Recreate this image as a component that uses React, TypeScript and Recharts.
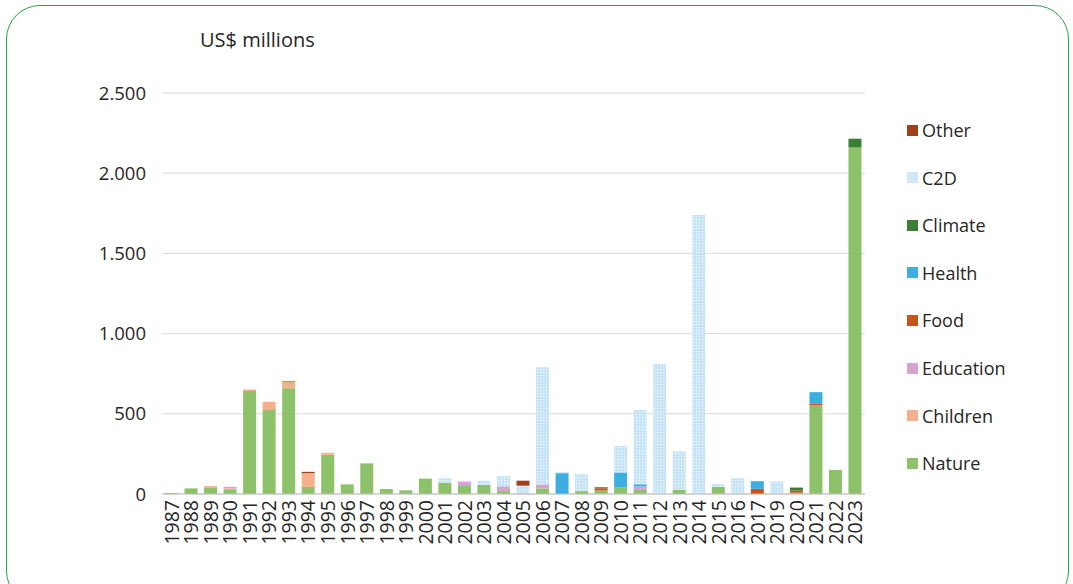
import { BarChart, Bar, XAxis, YAxis, CartesianGrid } from 'recharts';

const years = [
  '1987', '1988', '1989', '1990', '1991', '1992', '1993', '1994', '1995', '1996',
  '1997', '1998', '1999', '2000', '2001', '2002', '2003', '2004', '2005', '2006',
  '2007', '2008', '2009', '2010', '2011', '2012', '2013', '2014', '2015', '2016',
  '2017', '2019', '2020', '2021', '2022', '2023',
];

// US$ millions
const nature = [6, 35, 38, 25, 642, 523, 660, 45, 245, 60, 191, 31, 23, 96, 70, 50, 56, 18, 0, 35, 0, 18, 22, 40, 25, 0, 25, 0, 45, 0, 0, 0, 8, 555, 150, 2160];
const children = [0, 0, 12, 10, 10, 52, 38, 85, 12, 0, 0, 0, 0, 0, 0, 0, 0, 0, 0, 0, 0, 0, 0, 0, 0, 0, 0, 0, 0, 0, 0, 0, 0, 0, 0, 0];
const education = [0, 0, 0, 10, 0, 0, 0, 0, 0, 0, 0, 0, 0, 0, 0, 27, 0, 30, 5, 25, 0, 0, 0, 0, 22, 0, 0, 0, 0, 0, 0, 0, 0, 0, 0, 0];
const food = [0, 0, 0, 0, 0, 0, 0, 0, 0, 0, 0, 0, 0, 0, 0, 0, 0, 0, 0, 0, 0, 0, 12, 0, 0, 0, 0, 0, 0, 0, 32, 0, 14, 10, 0, 0];
const health = [0, 0, 0, 0, 0, 0, 6, 0, 0, 0, 0, 0, 0, 0, 0, 0, 0, 0, 0, 0, 130, 0, 0, 94, 14, 0, 0, 0, 0, 0, 48, 0, 0, 70, 0, 0];
const climate = [0, 0, 0, 0, 0, 0, 0, 0, 0, 0, 0, 0, 0, 0, 0, 0, 0, 0, 0, 0, 0, 0, 0, 0, 0, 0, 0, 0, 0, 0, 0, 0, 18, 0, 0, 55];
const c2d = [0, 0, 0, 0, 0, 0, 0, 0, 0, 0, 0, 0, 0, 0, 28, 6, 27, 64, 47, 730, 5, 107, 0, 165, 462, 810, 240, 1740, 17, 98, 0, 78, 0, 0, 0, 0];
const other = [0, 0, 0, 0, 0, 0, 0, 8, 0, 0, 0, 0, 0, 0, 0, 0, 0, 0, 31, 0, 0, 0, 8, 0, 0, 0, 0, 0, 0, 0, 0, 0, 0, 0, 0, 0];

const yTicks = [0, 500, 1000, 1500, 2000, 2500];

const series = [
  { key: 'nature', name: 'Nature', color: '#8dc26a', values: nature },
  { key: 'children', name: 'Children', color: '#f4b08a', values: children },
  { key: 'education', name: 'Education', color: '#d7a3d0', values: education },
  { key: 'food', name: 'Food', color: '#c8541b', values: food },
  { key: 'health', name: 'Health', color: '#3cafe0', values: health },
  { key: 'climate', name: 'Climate', color: '#3b7f36', values: climate },
  { key: 'c2d', name: 'C2D', color: 'url(#c2dPattern)', values: c2d },
  { key: 'other', name: 'Other', color: '#9e411c', values: other },
];

const data = years.map((year, i) => {
  const row: Record<string, string | number> = { year };
  for (const s of series) row[s.key] = s.values[i];
  return row;
});

const FONT = "'Open Sans', sans-serif";
const TEXT = '#262626';

function fmtTick(v: number): string {
  return v.toLocaleString('de-DE');
}

function YearTick({ x, y, payload }: any) {
  return (
    <g transform={`translate(${x},${y})`}>
      <text transform="rotate(-90)" textAnchor="end" dy="0.36em" fontSize={19.5} fill={TEXT} fontFamily={FONT}>
        {payload.value}
      </text>
    </g>
  );
}

export default function App() {
  return (
    <div style={{ position: 'fixed', left: 0, top: 0, width: 1073, height: 584, overflow: 'hidden', background: '#fff', fontFamily: FONT }}>
      <div style={{ position: 'absolute', left: 6, top: 5, width: 1063, height: 600, border: '1.5px solid #27a348', borderRadius: 34, boxSizing: 'border-box' }} />
      <div style={{ position: 'absolute', left: 200, top: 26, fontSize: 20, color: TEXT, whiteSpace: 'nowrap' }}>US$ millions</div>
      <div style={{ position: 'absolute', left: 0, top: 0 }}>
        <BarChart width={1073} height={584} data={data} margin={{ top: 93, right: 208, left: 0, bottom: 0 }} barSize={13}>
          <defs>
            <pattern id="c2dPattern" width="3" height="3" patternUnits="userSpaceOnUse">
              <rect width="3" height="3" fill="#cbe6f7" />
              <rect x="0" y="0" width="1.2" height="1.2" fill="#eef7fd" />
              <rect x="1.5" y="1.5" width="1.2" height="1.2" fill="#b8dcf3" />
            </pattern>
          </defs>
          <CartesianGrid vertical={false} stroke="#d9d9d9" />
          <XAxis
            dataKey="year"
            interval={0}
            height={90}
            tickLine={false}
            axisLine={{ stroke: '#bfbfbf' }}
            tick={<YearTick />}
            tickMargin={0}
          />
          <YAxis
            domain={[0, 2500]}
            ticks={yTicks}
            width={162}
            tickFormatter={fmtTick}
            tickLine={false}
            axisLine={false}
            tickMargin={10}
            tick={{ fontSize: 18.5, fill: TEXT, fontFamily: FONT }}
          />
          {series.map((s) => (
            <Bar key={s.key} dataKey={s.key} name={s.name} stackId="a" fill={s.color} isAnimationActive={false} />
          ))}
        </BarChart>
      </div>
      {series.slice().reverse().map((s, i) => (
        <div key={s.key} style={{ position: 'absolute', left: 907, top: 130 + i * 47.6 - 13, height: 26, display: 'flex', alignItems: 'center', whiteSpace: 'nowrap' }}>
          <svg width={11} height={11} style={{ marginRight: 4 }}>
            <rect width={11} height={11} fill={s.color === 'url(#c2dPattern)' ? '#cfe7f7' : s.color} />
          </svg>
          <span style={{ fontSize: 18, color: TEXT }}>{s.name}</span>
        </div>
      ))}
    </div>
  );
}
